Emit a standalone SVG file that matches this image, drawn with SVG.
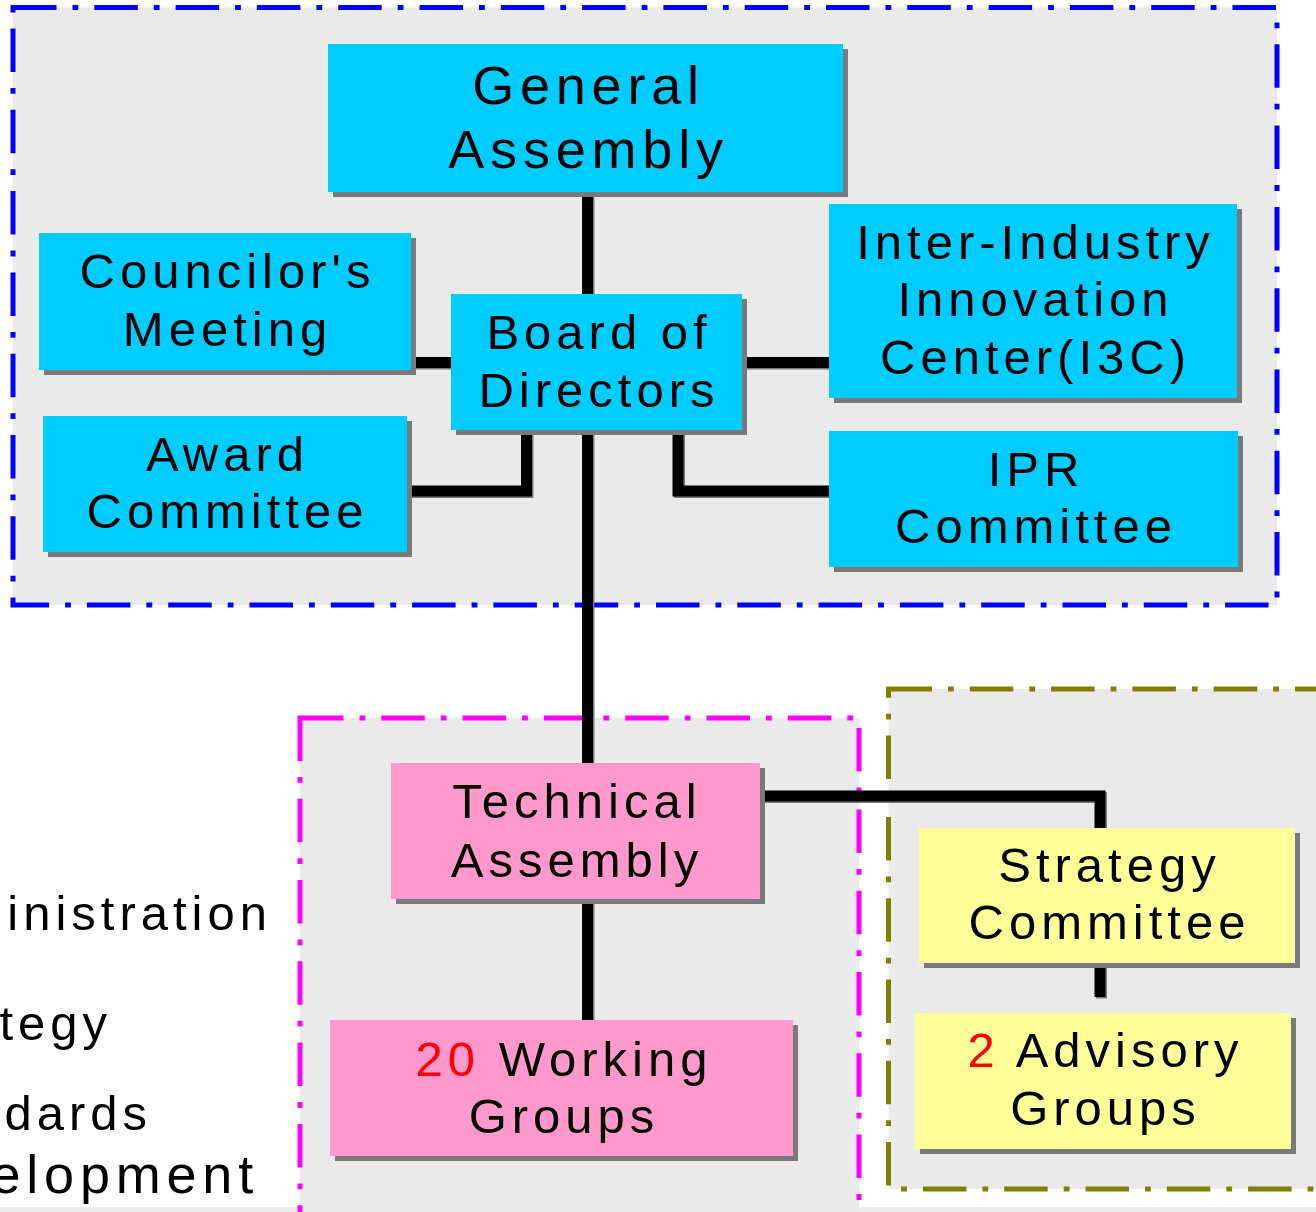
<svg xmlns="http://www.w3.org/2000/svg" width="1316" height="1212" viewBox="0 0 1316 1212">
<style>
  .frame{stroke-width:5;stroke-dasharray:43.5 16 5.8 16;fill:#eaeaea}
  .shadow{fill:#7a7a7a}
  .cyan{fill:#00ccff}
  .pink{fill:#ff99cc}
  .yellow{fill:#ffff99}
  text{font-family:"Liberation Sans",Arial,sans-serif;font-size:49px;letter-spacing:5px;fill:#000;text-anchor:middle}
  .big{font-size:54px;letter-spacing:5.8px}
  .left{text-anchor:end}
  .red{fill:#ff0000}
  .conn{fill:none;stroke:#000;stroke-width:11;stroke-linejoin:miter}
  .connsh{fill:none;stroke:#7a7a7a;stroke-width:11;stroke-linejoin:miter}
</style>
<rect x="0" y="0" width="1316" height="1212" fill="#ffffff"/>
<rect x="0" y="1207" width="1316" height="5" fill="#ececec"/>

<g id="frames">
  <rect id="frame-governance" class="frame" x="13" y="7.5" width="1264" height="597.5" stroke="#0000ff"/>
  <rect id="frame-technical" class="frame" x="300" y="718" width="559" height="560" stroke="#ff00ff"/>
  <rect id="frame-strategy" class="frame" x="888.5" y="689" width="480" height="500" stroke="#808000"/>
</g>

<g id="left-labels">
  <text class="left" x="272" y="930">inistration</text>
  <text class="left" x="112" y="1040">tegy</text>
  <text class="left" x="152" y="1130">dards</text>
  <text class="left big" x="259" y="1193">elopment</text>
</g>

<g id="connectors">
  <g transform="translate(1.5,1.5)">
    <path class="connsh" d="M587.5 192 V763"/>
    <path class="connsh" d="M587.5 899 V1020"/>
    <path class="connsh" d="M411 362.5 H451"/>
    <path class="connsh" d="M742 362.5 H829"/>
    <path class="connsh" d="M526.5 430 V491 H407"/>
    <path class="connsh" d="M678 430 V491 H829"/>
    <path class="connsh" d="M760 796 H1100 V828"/>
    <path class="connsh" d="M1100 963 V997"/>
  </g>
  <path class="conn" d="M587.5 192 V763"/>
  <path class="conn" d="M587.5 899 V1020"/>
  <path class="conn" d="M411 362.5 H451"/>
  <path class="conn" d="M742 362.5 H829"/>
  <path class="conn" d="M526.5 430 V491 H407"/>
  <path class="conn" d="M678 430 V491 H829"/>
  <path class="conn" d="M760 796 H1100 V828"/>
  <path class="conn" d="M1100 963 V997"/>
</g>

<g id="general-assembly">
  <rect class="shadow" x="333" y="49" width="515" height="148"/>
  <rect class="cyan" x="328" y="44" width="515" height="148"/>
  <text class="big" x="588.5" y="104">General</text>
  <text class="big" x="588.5" y="168">Assembly</text>
</g>

<g id="councilors-meeting">
  <rect class="shadow" x="44" y="238" width="372" height="137"/>
  <rect class="cyan" x="39" y="233" width="372" height="137"/>
  <text x="227.5" y="288">Councilor's</text>
  <text x="227.5" y="346">Meeting</text>
</g>

<g id="award-committee">
  <rect class="shadow" x="48" y="421" width="364" height="136"/>
  <rect class="cyan" x="43" y="416" width="364" height="136"/>
  <text x="227.5" y="471">Award</text>
  <text x="227.5" y="528">Committee</text>
</g>

<g id="board-of-directors">
  <rect class="shadow" x="456" y="299" width="291" height="136"/>
  <rect class="cyan" x="451" y="294" width="291" height="136"/>
  <text x="599" y="349">Board of</text>
  <text x="599" y="407">Directors</text>
</g>

<g id="inter-industry">
  <rect class="shadow" x="834" y="209" width="408" height="194"/>
  <rect class="cyan" x="829" y="204" width="408" height="194"/>
  <text x="1035.5" y="259">Inter-Industry</text>
  <text x="1035.5" y="316">Innovation</text>
  <text x="1035.5" y="374">Center(I3C)</text>
</g>

<g id="ipr-committee">
  <rect class="shadow" x="834" y="436" width="409" height="136"/>
  <rect class="cyan" x="829" y="431" width="409" height="136"/>
  <text x="1036" y="486">IPR</text>
  <text x="1036" y="543">Committee</text>
</g>

<g id="technical-assembly">
  <rect class="shadow" x="396" y="768" width="369" height="136"/>
  <rect class="pink" x="391" y="763" width="369" height="136"/>
  <text x="577" y="818">Technical</text>
  <text x="577" y="877">Assembly</text>
</g>

<g id="working-groups">
  <rect class="shadow" x="335" y="1025" width="463" height="136"/>
  <rect class="pink" x="330" y="1020" width="463" height="136"/>
  <text x="564" y="1076"><tspan class="red">20</tspan> Working</text>
  <text x="564" y="1133">Groups</text>
</g>

<g id="strategy-committee">
  <rect class="shadow" x="924" y="833" width="376" height="135"/>
  <rect class="yellow" x="919" y="828" width="376" height="135"/>
  <text x="1109.5" y="882">Strategy</text>
  <text x="1109.5" y="939">Committee</text>
</g>

<g id="advisory-groups">
  <rect class="shadow" x="920" y="1018" width="376" height="136"/>
  <rect class="yellow" x="915" y="1013" width="376" height="136"/>
  <text x="1105.5" y="1067"><tspan class="red">2</tspan> Advisory</text>
  <text x="1105.5" y="1125">Groups</text>
</g>
</svg>
